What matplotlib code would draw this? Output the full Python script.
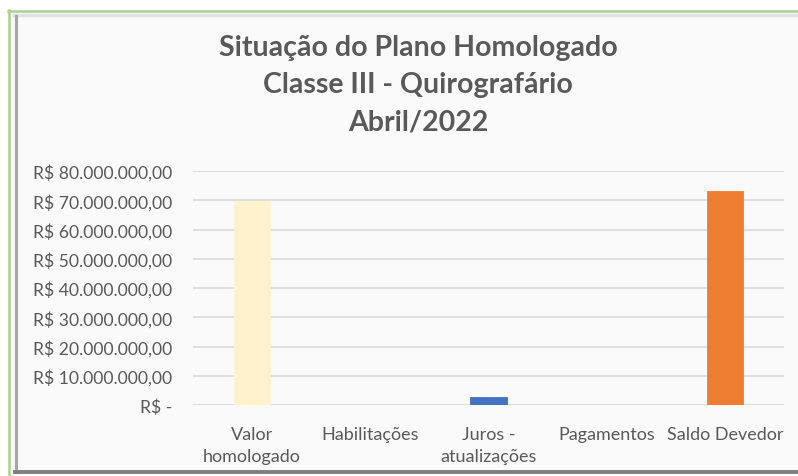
import matplotlib
matplotlib.use("Agg")
import matplotlib.pyplot as plt
from matplotlib.lines import Line2D
from matplotlib.ticker import FuncFormatter

W, H = 798, 477

categorias = ["Valor\nhomologado", "Habilitações", "Juros -\natualizações", "Pagamentos", "Saldo Devedor"]
valores = [69.8e6, 0.0, 2.9e6, 0.0, 73.2e6]
cores = ["#FFF2CC", "#4472C4", "#4472C4", "#A5A5A5", "#ED7D31"]
titulo = ["Situação do Plano Homologado", "Classe III - Quirografário", "Abril/2022"]
y_ticks = [0, 10e6, 20e6, 30e6, 40e6, 50e6, 60e6, 70e6, 80e6]

texto = "#595959"
plt.rcParams["font.family"] = ["Lato", "DejaVu Sans"]


def fx(px):
    return px / W


def fy(py):
    return 1 - py / H


def moeda(v, pos):
    if v == 0:
        return "R$ -"
    s = f"{v:,.2f}".replace(",", "X").replace(".", ",").replace("X", ".")
    return "R$ " + s


fig = plt.figure(figsize=(W / 100, H / 100), dpi=100)
fig.patch.set_facecolor("white")

# fundo do grafico e bordas (estilo captura do Excel)
fig.patches.append(plt.Rectangle((fx(9), fy(471)), fx(W) - fx(9), fy(13) - fy(471),
                                 transform=fig.transFigure, facecolor="#FAFAFA", edgecolor="none", zorder=-5))
fig.add_artist(Line2D([fx(8), fx(W)], [fy(11.5), fy(11.5)], color="#A9D18E", lw=1.8))
fig.add_artist(Line2D([fx(8.5), fx(8.5)], [fy(11), fy(H)], color="#A9D18E", lw=1.8))
fig.add_artist(Line2D([fx(14), fx(W)], [fy(15.5), fy(15.5)], color="#E2E2E2", lw=2.5))
fig.add_artist(Line2D([fx(15.5), fx(15.5)], [fy(17), fy(473)], color="#A6A6A6", lw=2.2))
fig.add_artist(Line2D([fx(15), fx(W)], [fy(472.5), fy(472.5)], color="#7F7F7F", lw=2.8))

ax = fig.add_axes([fx(193), fy(406), fx(784) - fx(193), fy(172) - fy(406)])
ax.set_facecolor("none")
ax.set_zorder(1)

x = range(len(categorias))
ax.bar(x, valores, width=0.31, color=cores, edgecolor=cores, linewidth=0.6, zorder=3)

ax.set_xlim(-0.5, len(categorias) - 0.5)
ax.set_ylim(0, 80e6)
ax.set_yticks(y_ticks)
ax.yaxis.set_major_formatter(FuncFormatter(moeda))
ax.grid(axis="y", color="#D9D9D9", lw=1.2, zorder=0)
ax.set_axisbelow(True)
for s in ax.spines.values():
    s.set_visible(False)
ax.tick_params(axis="y", length=0, pad=15, labelsize=12.6, labelcolor=texto)
ax.tick_params(axis="x", length=0, pad=15, labelsize=13, labelcolor=texto)
ax.set_xticks(list(x))
ax.set_xticklabels(categorias, linespacing=1.5)

for i, linha in enumerate(titulo):
    fig.text(fx(418), fy(48 + 37.5 * i), linha, ha="center", va="center",
             fontsize=20.5, fontweight="bold", color=texto)

fig.savefig("out.png", dpi=100)
